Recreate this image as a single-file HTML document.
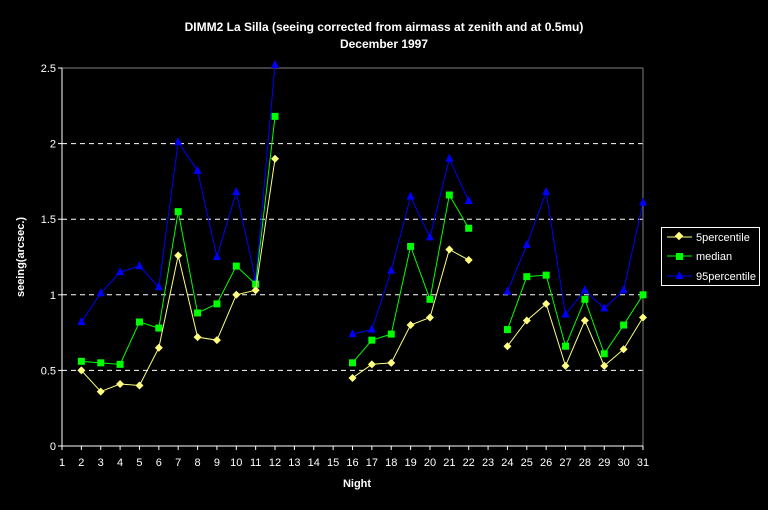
<!DOCTYPE html>
<html><head><meta charset="utf-8"><style>
html,body{margin:0;padding:0;background:#000;}
svg{display:block;font-family:"Liberation Sans",Arial,sans-serif;}
</style></head><body>
<svg id="chart" width="768" height="510" viewBox="0 0 768 510" xmlns="http://www.w3.org/2000/svg">
<rect x="0" y="0" width="768" height="510" fill="#000"/>
<text x="384" y="31" fill="#fff" font-size="12" font-weight="bold" text-anchor="middle">DIMM2 La Silla (seeing corrected from airmass at zenith and at 0.5mu)</text>
<text x="384" y="48" fill="#fff" font-size="12" font-weight="bold" text-anchor="middle">December 1997</text>
<text x="357" y="487" fill="#fff" font-size="11" font-weight="bold" text-anchor="middle">Night</text>
<text transform="translate(24,257) rotate(-90)" fill="#fff" font-size="11" font-weight="bold" text-anchor="middle">seeing(arcsec.)</text>
<g id="grid"></g><g id="axes"></g><g id="series"></g>
<g>
<rect x="661.5" y="227.5" width="98" height="58" fill="#000" stroke="#fff" stroke-width="1"/>
<line x1="667" y1="237" x2="692" y2="237" stroke="#ffff80" stroke-width="1"/>
<rect x="676" y="233" width="6" height="6" fill="#ffff80" transform="rotate(45 679 236)"/>
<text x="696" y="241" fill="#fff" font-size="11">5percentile</text>
<line x1="667" y1="256" x2="692" y2="256" stroke="#00ff00" stroke-width="1"/>
<rect x="676" y="253" width="7" height="7" fill="#00ff00"/>
<text x="696" y="260" fill="#fff" font-size="11">median</text>
<line x1="667" y1="276" x2="692" y2="276" stroke="#0000ff" stroke-width="1"/>
<polygon points="679.5,271 683.5,279 675.5,279" fill="#0000ff"/>
<text x="696" y="280" fill="#fff" font-size="11">95percentile</text>
</g>
</svg>
<script>
const nights=[2,3,4,5,6,7,8,9,10,11,12,16,17,18,19,20,21,22,24,25,26,27,28,29,30,31];
const p95=[0.82,1.01,1.15,1.19,1.05,2.01,1.82,1.25,1.68,1.10,2.52,0.74,0.77,1.16,1.65,1.38,1.90,1.62,1.02,1.33,1.68,0.87,1.03,0.91,1.03,1.61];
const median=[0.56,0.55,0.54,0.82,0.78,1.55,0.88,0.94,1.19,1.07,2.18,0.55,0.70,0.74,1.32,0.97,1.66,1.44,0.77,1.12,1.13,0.66,0.97,0.61,0.80,1.00];
const p5=[0.50,0.36,0.41,0.40,0.65,1.26,0.72,0.70,1.00,1.03,1.90,0.45,0.54,0.55,0.80,0.85,1.30,1.23,0.66,0.83,0.94,0.53,0.83,0.53,0.64,0.85];
const yTicks=[0,0.5,1,1.5,2,2.5];
const yTickLabels=["0","0.5","1","1.5","2","2.5"];
const xMin=1,xMax=31;
const NS="http://www.w3.org/2000/svg";
const L=62,R=643,T=68,B=446;
const xs=n=>L+(n-xMin)*(R-L)/(xMax-xMin);
const ys=v=>B-v*(B-T)/2.5;
function mk(tag,attrs,parent){const e=document.createElementNS(NS,tag);for(const k in attrs)e.setAttribute(k,attrs[k]);parent.appendChild(e);return e;}
const grid=document.getElementById('grid'),axes=document.getElementById('axes'),ser=document.getElementById('series');
yTicks.forEach((v,i)=>{
  const y=ys(v);
  if(v>0&&v<2.5){const g=mk('line',{x1:L,x2:R,y1:y,y2:y,stroke:'#fff','stroke-dasharray':'5,4'},grid);
  
  }
  if(v===2.5){mk('line',{x1:L,x2:R,y1:y,y2:y,stroke:'#808080'},grid);}
  mk('line',{x1:L-4,x2:L,y1:y,y2:y,stroke:'#fff'},axes);
  const t=mk('text',{x:L-6,y:y+4,fill:'#fff','font-size':'11','text-anchor':'end'},axes);
  t.textContent=yTickLabels[i];
  
  
});
mk('line',{x1:R,x2:R,y1:T,y2:B,stroke:'#808080'},axes);
mk('line',{x1:L,x2:L,y1:T,y2:B+1,stroke:'#fff'},axes);
mk('line',{x1:L,x2:R,y1:B,y2:B,stroke:'#fff'},axes);
for(let n=xMin;n<=xMax;n++){
  const x=xs(n);
  mk('line',{x1:x,x2:x,y1:B,y2:B+4,stroke:'#fff'},axes);
  const t=mk('text',{x:x,y:466,fill:'#fff','font-size':'11','text-anchor':'middle'},axes);
  t.textContent=String(n);
  
  
}
function segs(vals){const out=[];let cur=[];nights.forEach((n,i)=>{if(cur.length&&n!==nights[i-1]+1){out.push(cur);cur=[];}cur.push([xs(n),ys(vals[i])]);});out.push(cur);return out;}
function draw(vals,color,marker,name){
  const g=mk('g',{},ser);
  
  
  segs(vals).forEach(s=>{mk('polyline',{points:s.map(p=>p.join(',')).join(' '),fill:'none',stroke:color,'stroke-width':1},g);});
  nights.forEach((n,i)=>{
    const x=xs(n),y=ys(vals[i]);let m;
    if(marker==='d')m=mk('polygon',{points:`${x},${y-4} ${x+4},${y} ${x},${y+4} ${x-4},${y}`,fill:color},g);
    else if(marker==='s')m=mk('rect',{x:x-3.5,y:y-3.5,width:7,height:7,fill:color},g);
    else m=mk('polygon',{points:`${x},${y-5} ${x+4},${y+3} ${x-4},${y+3}`,fill:color},g);
    
    
  });
}
draw(p95,'#0000ff','t','95percentile');
draw(median,'#00ff00','s','median');
draw(p5,'#ffff80','d','5percentile');
</script>
</body></html>
